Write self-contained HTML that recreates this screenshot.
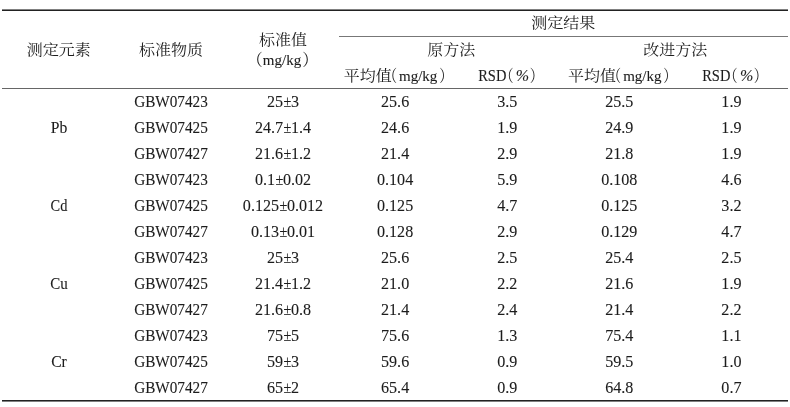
<!DOCTYPE html><html lang="zh"><head><meta charset="utf-8"><title>表</title><style>
html,body{margin:0;padding:0;background:#fff;}
body{width:790px;height:407px;position:relative;overflow:hidden;
 font-family:"Liberation Serif","Noto Serif CJK SC",serif;color:#1c1c1c;}
.ln{position:absolute;background:#222;}
.t{position:absolute;white-space:nowrap;line-height:0;height:0;transform:translateX(-50%);}
.cj{transform:translateX(-50%) scaleY(.91);}
.g{transform:translateX(-50%) scaleX(.908);}
.e{transform:translateX(-48%) scaleX(.95);}
.t>span.w{display:inline-block;line-height:0;}
.cj{font-size:16px;font-weight:400;}
.la{font-family:"Liberation Serif",serif;font-weight:400;}
.cj .la{display:inline-block;text-align:left;}
.cj .la>span{display:inline-block;transform-origin:0 50%;transform:scaleY(1.099);}
.m{width:38.4px;font-size:15px;}
.r{width:28.1px;font-size:16px;}
.r>span{transform:scale(.905,1.099) !important;}
.p{width:13.3px;font-size:16px;font-style:italic;}
.fp{display:inline-block;width:16px;transform:scaleY(1.12);}
.hp{display:inline-block;width:8px;font-feature-settings:"halt";transform:scale(.85,1.12);}
.hl{margin-left:-2px;margin-right:1.2px;}
.hr{margin-left:1px;}
.hl2{margin-left:0px;margin-right:1.2px;}
.hr2{margin-left:0;}
.r{margin-left:1px;}
.fl{margin-left:-1px;}
.fr{margin-left:1px;}
.d{font-size:16.1px;}
.pm{display:inline-block;transform:scaleX(.88);margin:0 -0.5px;}
.la{-webkit-text-stroke:0.1px #1c1c1c;}
.g{font-size:16.8px;}
.e{font-size:16.5px;}
</style></head><body>
<div class="ln" style="left:2px;top:9px;width:786px;height:1px;background:#808080"></div>
<div class="ln" style="left:2px;top:10px;width:786px;height:1px;background:#222"></div>
<div class="ln" style="left:339px;top:36px;width:449px;height:1px;background:#777"></div>
<div class="ln" style="left:2px;top:88px;width:786px;height:1px;background:#666"></div>
<div class="ln" style="left:2px;top:400px;width:786px;height:1px;background:#222"></div>
<div class="ln" style="left:2px;top:401px;width:786px;height:1px;background:#808080"></div>
<div class="t cj" style="left:58.80px;top:49.60px">测定元素</div>
<div class="t cj" style="left:170.90px;top:49.60px">标准物质</div>
<div class="t cj" style="left:283.00px;top:40.20px">标准值</div>
<div class="t cj" style="left:283.00px;top:60.20px"><span class="fp fl">（</span><span class="la m"><span>mg/kg</span></span><span class="fp fr">）</span></div>
<div class="t cj" style="left:563.25px;top:23.30px">测定结果</div>
<div class="t cj" style="left:451.15px;top:50.00px">原方法</div>
<div class="t cj" style="left:675.35px;top:50.00px">改进方法</div>
<div class="t cj" style="left:395.10px;top:75.90px">平均值<span class="hp hl">（</span><span class="la m"><span>mg/kg</span></span><span class="hp hr">）</span></div>
<div class="t cj" style="left:619.30px;top:75.90px">平均值<span class="hp hl">（</span><span class="la m"><span>mg/kg</span></span><span class="hp hr">）</span></div>
<div class="t cj" style="left:507.20px;top:75.90px"><span class="la r"><span>RSD</span></span><span class="hp hl2">（</span><span class="la p"><span>%</span></span><span class="hp hr2">）</span></div>
<div class="t cj" style="left:731.40px;top:75.90px"><span class="la r"><span>RSD</span></span><span class="hp hl2">（</span><span class="la p"><span>%</span></span><span class="hp hr2">）</span></div>
<div class="t la e" style="left:58.80px;top:127.83px;transform:translateX(-50%) scaleX(0.95)">Pb</div>
<div class="t la g" style="left:170.90px;top:101.73px">GBW07423</div>
<div class="t la d" style="left:283.00px;top:101.97px">25<span class="pm">±</span>3</div>
<div class="t la d" style="left:395.10px;top:101.97px">25.6</div>
<div class="t la d" style="left:507.20px;top:101.97px">3.5</div>
<div class="t la d" style="left:619.30px;top:101.97px">25.5</div>
<div class="t la d" style="left:731.40px;top:101.97px">1.9</div>
<div class="t la g" style="left:170.90px;top:127.73px">GBW07425</div>
<div class="t la d" style="left:283.00px;top:127.97px">24.7<span class="pm">±</span>1.4</div>
<div class="t la d" style="left:395.10px;top:127.97px">24.6</div>
<div class="t la d" style="left:507.20px;top:127.97px">1.9</div>
<div class="t la d" style="left:619.30px;top:127.97px">24.9</div>
<div class="t la d" style="left:731.40px;top:127.97px">1.9</div>
<div class="t la g" style="left:170.90px;top:153.73px">GBW07427</div>
<div class="t la d" style="left:283.00px;top:153.97px">21.6<span class="pm">±</span>1.2</div>
<div class="t la d" style="left:395.10px;top:153.97px">21.4</div>
<div class="t la d" style="left:507.20px;top:153.97px">2.9</div>
<div class="t la d" style="left:619.30px;top:153.97px">21.8</div>
<div class="t la d" style="left:731.40px;top:153.97px">1.9</div>
<div class="t la e" style="left:58.80px;top:205.83px;transform:translateX(-50%) scaleX(0.875)">Cd</div>
<div class="t la g" style="left:170.90px;top:179.73px">GBW07423</div>
<div class="t la d" style="left:283.00px;top:179.97px">0.1<span class="pm">±</span>0.02</div>
<div class="t la d" style="left:395.10px;top:179.97px">0.104</div>
<div class="t la d" style="left:507.20px;top:179.97px">5.9</div>
<div class="t la d" style="left:619.30px;top:179.97px">0.108</div>
<div class="t la d" style="left:731.40px;top:179.97px">4.6</div>
<div class="t la g" style="left:170.90px;top:205.73px">GBW07425</div>
<div class="t la d" style="left:283.00px;top:205.97px">0.125<span class="pm">±</span>0.012</div>
<div class="t la d" style="left:395.10px;top:205.97px">0.125</div>
<div class="t la d" style="left:507.20px;top:205.97px">4.7</div>
<div class="t la d" style="left:619.30px;top:205.97px">0.125</div>
<div class="t la d" style="left:731.40px;top:205.97px">3.2</div>
<div class="t la g" style="left:170.90px;top:231.73px">GBW07427</div>
<div class="t la d" style="left:283.00px;top:231.97px">0.13<span class="pm">±</span>0.01</div>
<div class="t la d" style="left:395.10px;top:231.97px">0.128</div>
<div class="t la d" style="left:507.20px;top:231.97px">2.9</div>
<div class="t la d" style="left:619.30px;top:231.97px">0.129</div>
<div class="t la d" style="left:731.40px;top:231.97px">4.7</div>
<div class="t la e" style="left:58.80px;top:283.83px;transform:translateX(-50%) scaleX(0.91)">Cu</div>
<div class="t la g" style="left:170.90px;top:257.73px">GBW07423</div>
<div class="t la d" style="left:283.00px;top:257.97px">25<span class="pm">±</span>3</div>
<div class="t la d" style="left:395.10px;top:257.97px">25.6</div>
<div class="t la d" style="left:507.20px;top:257.97px">2.5</div>
<div class="t la d" style="left:619.30px;top:257.97px">25.4</div>
<div class="t la d" style="left:731.40px;top:257.97px">2.5</div>
<div class="t la g" style="left:170.90px;top:283.73px">GBW07425</div>
<div class="t la d" style="left:283.00px;top:283.97px">21.4<span class="pm">±</span>1.2</div>
<div class="t la d" style="left:395.10px;top:283.97px">21.0</div>
<div class="t la d" style="left:507.20px;top:283.97px">2.2</div>
<div class="t la d" style="left:619.30px;top:283.97px">21.6</div>
<div class="t la d" style="left:731.40px;top:283.97px">1.9</div>
<div class="t la g" style="left:170.90px;top:309.73px">GBW07427</div>
<div class="t la d" style="left:283.00px;top:309.97px">21.6<span class="pm">±</span>0.8</div>
<div class="t la d" style="left:395.10px;top:309.97px">21.4</div>
<div class="t la d" style="left:507.20px;top:309.97px">2.4</div>
<div class="t la d" style="left:619.30px;top:309.97px">21.4</div>
<div class="t la d" style="left:731.40px;top:309.97px">2.2</div>
<div class="t la e" style="left:58.80px;top:361.83px;transform:translateX(-50%) scaleX(0.95)">Cr</div>
<div class="t la g" style="left:170.90px;top:335.73px">GBW07423</div>
<div class="t la d" style="left:283.00px;top:335.97px">75<span class="pm">±</span>5</div>
<div class="t la d" style="left:395.10px;top:335.97px">75.6</div>
<div class="t la d" style="left:507.20px;top:335.97px">1.3</div>
<div class="t la d" style="left:619.30px;top:335.97px">75.4</div>
<div class="t la d" style="left:731.40px;top:335.97px">1.1</div>
<div class="t la g" style="left:170.90px;top:361.73px">GBW07425</div>
<div class="t la d" style="left:283.00px;top:361.97px">59<span class="pm">±</span>3</div>
<div class="t la d" style="left:395.10px;top:361.97px">59.6</div>
<div class="t la d" style="left:507.20px;top:361.97px">0.9</div>
<div class="t la d" style="left:619.30px;top:361.97px">59.5</div>
<div class="t la d" style="left:731.40px;top:361.97px">1.0</div>
<div class="t la g" style="left:170.90px;top:387.73px">GBW07427</div>
<div class="t la d" style="left:283.00px;top:387.97px">65<span class="pm">±</span>2</div>
<div class="t la d" style="left:395.10px;top:387.97px">65.4</div>
<div class="t la d" style="left:507.20px;top:387.97px">0.9</div>
<div class="t la d" style="left:619.30px;top:387.97px">64.8</div>
<div class="t la d" style="left:731.40px;top:387.97px">0.7</div>
</body></html>
